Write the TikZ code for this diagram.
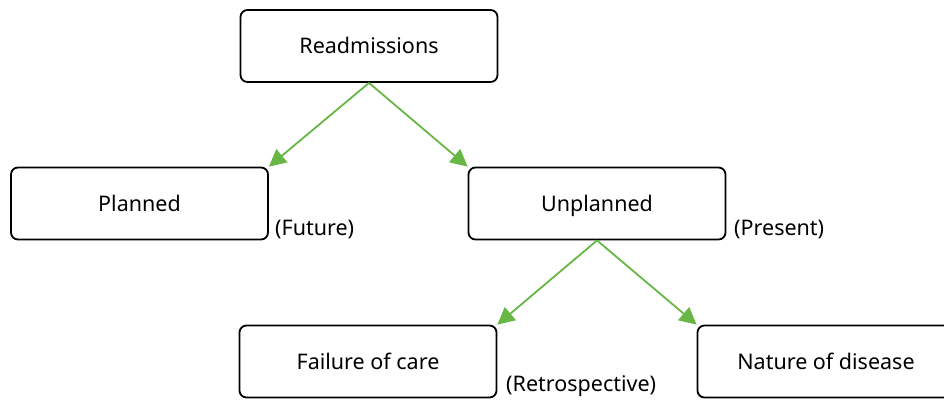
\documentclass[tikz,border=0pt]{standalone}
\usepackage{fontspec}
\setmainfont{Noto Sans}
\usetikzlibrary{arrows.meta}
\definecolor{arrowgreen}{RGB}{104,182,70}
\tikzset{
  box/.style={draw=black, line width=1.8pt, rounded corners=7pt, fill=white,
    minimum width=257pt, minimum height=72pt, inner sep=0pt,
    text height=15pt, text depth=0pt,
    font=\fontsize{21.5}{25}\selectfont},
  link/.style={draw=arrowgreen, line width=1.8pt,
    -{Triangle[length=17pt,width=17pt]}},
  note/.style={inner sep=0pt, font=\fontsize{21.5}{25}\selectfont, anchor=base west}
}
\begin{document}
\begin{tikzpicture}[x=1pt,y=-1pt]
  \useasboundingbox (0,0) rectangle (944,399);
  \clip (0,0) rectangle (944,399);
  % boxes
  \node[box] (readm)    at (369,46)    {Readmissions};
  \node[box] (planned)  at (139.5,203.5) {Planned};
  \node[box] (unplan)   at (597,203.5) {Unplanned};
  \node[box] (failure)  at (368,361.5) {Failure of care};
  \node[box] (nature)   at (826,361.5) {Nature of disease};
  % side notes
  \node[note] (future)  at (275,235) {(Future)};
  \node[note] (present) at (734,235) {(Present)};
  \node[note] (retro)   at (506,391) {(Retrospective)};
  % connectors
  \draw[link] (readm.south) -- (planned.north east);
  \draw[link] (readm.south) -- (unplan.north west);
  \draw[link] (unplan.south) -- (failure.north east);
  \draw[link] (unplan.south) -- (nature.north west);
\end{tikzpicture}
\end{document}
